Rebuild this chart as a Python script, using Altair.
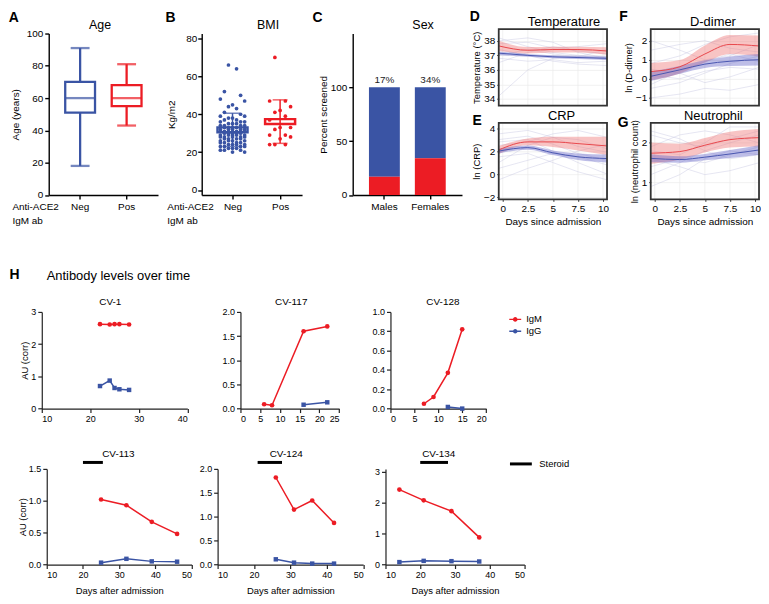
import altair as alt
import pandas as pd

FONT = "Liberation Sans"
BLUE = "#3a54a4"
RED = "#ec1c24"

# ---------------- A: age (box plot summary) ----------------
age_groups = ["Neg", "Pos"]
age_min = [18, 43]
age_q1 = [51, 55]
age_med = [60, 60]
age_q3 = [70, 68]
age_max = [91, 81]

# ---------------- B: BMI ----------------
bmi_neg = [66, 64, 52, 50, 48, 47, 45, 44, 43, 41, 40, 39, 39, 38, 38, 37, 37,
           36, 36, 36, 35, 35, 35, 34, 34, 34, 34, 33, 33, 33, 33, 32, 32, 32, 32, 32,
           31, 31, 31, 31, 31, 30, 30, 30, 30, 30, 29, 29, 29, 29, 29, 28, 28, 28, 28, 28,
           27, 27, 27, 27, 26, 26, 26, 26, 25, 25, 25, 25, 24, 24, 24, 24, 23, 23, 23, 23,
           22, 22, 22, 21, 21, 21, 20, 20]
bmi_pos = [70, 47, 47, 44, 42, 41, 39, 37, 33, 33, 32, 29, 29, 28, 27, 24, 24, 24]

# ---------------- C: sex ----------------
sex_cats = ["Males", "Females"]
sex_pos_pct = [17, 34]

# ---------------- D-G: trajectories ----------------
band_days = [-0.4, 2.5, 5, 7.5, 10.4]

temp_pos_mean = [37.65, 37.35, 37.4, 37.4, 37.3]
temp_pos_half = [0.35, 0.22, 0.2, 0.2, 0.25]
temp_neg_mean = [37.15, 37.0, 36.9, 36.85, 36.8]
temp_neg_half = [0.12, 0.1, 0.1, 0.1, 0.12]
temp_lines = [[38.2, 37.6, 37.2, 37.0, 36.9], [37.8, 37.9, 37.5, 37.6, 37.8],
              [36.8, 36.6, 36.7, 36.5, 36.6], [37.4, 37.0, 36.6, 36.4, 36.3],
              [36.5, 37.2, 37.6, 37.3, 37.1], [38.0, 38.2, 37.9, 37.2, 36.8],
              [34.2, 36.0, 36.8, 37.0, 36.7], [37.0, 37.4, 37.1, 36.9, 37.4]]

crp_pos_mean = [2.1, 2.8, 2.8, 2.65, 2.45]
crp_pos_half = [0.35, 0.3, 0.45, 0.6, 0.8]
crp_neg_mean = [2.0, 2.3, 1.85, 1.5, 1.35]
crp_neg_half = [0.2, 0.18, 0.2, 0.28, 0.35]
crp_lines = [[1.0, 2.5, 3.2, 3.0, 2.2], [3.0, 3.3, 2.6, 1.8, 1.2],
             [0.5, 1.2, 1.8, 1.5, 0.8], [2.5, 2.8, 3.5, 3.8, 3.2],
             [1.5, 1.8, 1.0, 0.2, -0.5], [2.8, 3.0, 2.0, 1.0, 0.0],
             [-0.5, 0.5, 1.2, 2.0, 2.6], [3.5, 3.8, 3.2, 2.4, 1.9]]

dd_pos_mean = [0.38, 0.63, 1.3, 1.8, 1.72]
dd_pos_half = [0.45, 0.35, 0.45, 0.5, 0.55]
dd_neg_mean = [0.13, 0.47, 0.77, 0.92, 1.0]
dd_neg_half = [0.25, 0.2, 0.2, 0.25, 0.3]
dd_lines = [[-0.5, -0.2, 0.3, 0.8, 1.2], [0.8, 1.2, 1.8, 2.2, 2.4],
            [-1.0, -0.8, -0.5, -0.6, -0.3], [0.2, 0.0, 0.4, 0.6, 0.5],
            [1.5, 1.8, 2.0, 1.6, 1.4], [-0.3, 0.4, 0.9, 1.3, 0.9],
            [0.5, 0.3, -0.2, 0.1, 0.6], [2.0, 1.5, 1.0, 1.2, 1.8]]

neu_pos_mean = [1.74, 1.78, 1.94, 2.08, 2.13]
neu_pos_half = [0.27, 0.2, 0.18, 0.2, 0.22]
neu_neg_mean = [1.61, 1.58, 1.64, 1.72, 1.82]
neu_neg_half = [0.1, 0.08, 0.08, 0.1, 0.12]
neu_lines = [[1.2, 1.5, 1.8, 2.0, 2.2], [2.2, 2.0, 1.9, 2.1, 2.3],
             [1.6, 1.4, 1.2, 1.3, 1.5], [1.9, 2.2, 2.3, 2.2, 2.0],
             [1.4, 1.6, 1.5, 1.7, 1.9], [2.3, 2.1, 1.8, 1.6, 1.7],
             [0.9, 1.2, 1.6, 1.8, 1.7], [1.8, 1.7, 2.0, 2.4, 2.4]]

# ---------------- H: antibody levels ----------------
cv1_igm_day = [22, 24, 25, 26, 28]
cv1_igm = [2.62, 2.61, 2.62, 2.62, 2.61]
cv1_igg_day = [22, 24, 25, 26, 28]
cv1_igg = [0.70, 0.87, 0.64, 0.60, 0.58]

cv117_igm_day = [6, 8, 16, 22]
cv117_igm = [0.09, 0.07, 1.60, 1.70]
cv117_igg_day = [16, 22]
cv117_igg = [0.08, 0.13]

cv128_igm_day = [7, 9, 12, 15]
cv128_igm = [0.05, 0.12, 0.37, 0.82]
cv128_igg_day = [12, 15]
cv128_igg = [0.017, 0.0]

cv113_day = [25, 32, 39, 46]
cv113_igm = [1.02, 0.93, 0.67, 0.48]
cv113_igg = [0.03, 0.09, 0.05, 0.045]
cv113_steroid = [20, 25.5]

cv124_day = [26, 31, 36, 42]
cv124_igm = [1.82, 1.15, 1.34, 0.87]
cv124_igg = [0.11, 0.04, 0.02, 0.02]
cv124_steroid = [21, 27.7]

cv134_day = [14, 21, 29, 37]
cv134_igm = [2.43, 2.08, 1.73, 0.88]
cv134_igg = [0.08, 0.12, 0.11, 0.10]
cv134_steroid = [20, 28]

# ================= helpers =================
RES = dict(color="independent", stroke="independent", shape="independent")


def txt(s, x, y, size=10, weight="normal", align="center", baseline="middle"):
    return (alt.Chart(pd.DataFrame({"t": [s]}))
            .mark_text(font=FONT, fontSize=size, fontWeight=weight, align=align,
                       baseline=baseline, color="black")
            .encode(text="t:N", x=alt.value(x), y=alt.value(y)))


def spacer(w, h=1):
    return (alt.Chart(pd.DataFrame({"t": [0]})).mark_point(size=0, opacity=0)
            .encode(x=alt.value(0), y=alt.value(0)).properties(width=w, height=h))


AX_ABC = dict(domainColor="black", domainWidth=1.4, tickColor="black", tickWidth=1.4,
              tickSize=4, labelFontSize=10, labelColor="black", titleFontSize=10,
              titleColor="black", titleFontWeight="normal", grid=False,
              labelFont=FONT, titleFont=FONT)

AX_H = dict(domainColor="#222222", domainWidth=1.2, tickColor="#222222", tickWidth=1.2,
            tickSize=4, labelFontSize=9, labelPadding=2, labelColor="black",
            titleFontSize=9.5, titleColor="black", titleFontWeight="normal", grid=False,
            labelFont=FONT, titleFont=FONT)

TOP_H = 162.5

# ================= A =================
a_df = pd.DataFrame({"g": age_groups, "lo": age_min, "q1": age_q1, "med": age_med,
                     "q3": age_q3, "hi": age_max})
grp_scale = alt.Scale(domain=age_groups, range=[BLUE, RED])
xA = alt.X("g:N", sort=age_groups,
           scale=alt.Scale(domain=age_groups, paddingInner=0.4, paddingOuter=0.375),
           axis=alt.Axis(labelAngle=0, labelPadding=3, title=["Anti-ACE2", "IgM ab"],
                         titleX=-37.0, titleY=7, titleAlign="left", titleBaseline="top",
                         titleLineHeight=14, **AX_ABC))
axA = alt.Axis(values=[0, 20, 40, 60, 80, 100], title="Age (years)", titlePadding=5.5,
               labelPadding=2, **AX_ABC)


def yA(f):
    return alt.Y(f"{f}:Q", scale=alt.Scale(domain=[0, 100]), axis=axA)


cA = alt.Color("g:N", scale=grp_scale, legend=None)
ba = alt.Chart(a_df)
A = alt.layer(
    ba.mark_rule(strokeWidth=2.3).encode(x=xA, y=yA("lo"), y2="hi:Q", color=cA),
    ba.mark_bar(size=30, fill="white", strokeWidth=2.3).encode(
        x=xA, y=yA("q1"), y2="q3:Q", stroke=alt.Stroke("g:N", scale=grp_scale, legend=None)),
    ba.mark_tick(size=30, thickness=2.3).encode(x=xA, y=yA("med"), color=cA),
    ba.mark_tick(size=19, thickness=2.3).encode(x=xA, y=yA("lo"), color=cA),
    ba.mark_tick(size=19, thickness=2.3).encode(x=xA, y=yA("hi"), color=cA),
    txt("A", -40.3, -15.6, 14, "bold", "left"),
    txt("Age", 51.6, -8.8, 12.5),
).properties(width=110, height=TOP_H)

# ================= B =================
b_df = pd.DataFrame({"g": ["Neg"] * len(bmi_neg) + ["Pos"] * len(bmi_pos),
                     "v": bmi_neg + bmi_pos})
axBx = alt.Axis(values=[0, 1], labelExpr="datum.value == 0 ? 'Neg' : 'Pos'", labelPadding=3,
                title=["Anti-ACE2", "IgM ab"], titleX=-35.1, titleY=7, titleAlign="left",
                titleBaseline="top", titleLineHeight=14, **AX_ABC)
axBy = alt.Axis(values=[0, 20, 40, 60, 80], title="Kg/m2", titlePadding=9, labelPadding=1,
                **AX_ABC)


def xB(f):
    return alt.X(f"{f}:Q", scale=alt.Scale(domain=[-0.647, 1.461], nice=False, zero=False),
                 axis=axBx)


def yB(f):
    return alt.Y(f"{f}:Q", scale=alt.Scale(domain=[0, 80]), axis=axBy)


cB = alt.Color("g:N", scale=grp_scale, legend=None)
bsum = (alt.Chart(b_df)
        .transform_aggregate(m="mean(v)", s="stdev(v)", groupby=["g"])
        .transform_calculate(gi="datum.g == 'Neg' ? 0 : 1")
        .transform_calculate(xa="datum.gi - 0.315", xb="datum.gi + 0.315",
                             lo="datum.m - datum.s", hi="datum.m + datum.s"))
bpts = (alt.Chart(b_df)
        .transform_window(rn="row_number()", groupby=["g"],
                          sort=[alt.SortField("v", order="descending")])
        .transform_calculate(k="datum.g == 'Neg' ? datum.rn % 7 : datum.rn % 5")
        .transform_calculate(o="datum.k % 2 == 0 ? datum.k / 2 : -(datum.k + 1) / 2")
        .transform_calculate(
            xj="(datum.g == 'Neg' ? 0 : 1) + datum.o * (datum.g == 'Neg' ? 0.085 : 0.11)"))
B = alt.layer(
    bsum.mark_bar(fill="white", strokeWidth=2.5).encode(
        x=xB("xa"), x2="xb:Q", y=yB("m"),
        stroke=alt.Stroke("g:N", scale=grp_scale, legend=None)),
    bpts.mark_circle(size=14, opacity=1).encode(x=xB("xj"), y=yB("v"), color=cB),
    bsum.mark_rule(strokeWidth=1.5).encode(x=xB("gi"), y=yB("lo"), y2="hi:Q", color=cB),
    bsum.mark_tick(orient="horizontal", size=15, thickness=1.5).encode(
        x=xB("gi"), y=yB("hi"), color=cB),
    bsum.mark_tick(orient="horizontal", size=15, thickness=1.5).encode(
        x=xB("gi"), y=yB("lo"), color=cB),
    txt("B", -36.4, -15.6, 14, "bold", "left"),
    txt("BMI", 66.8, -8.8, 12.5),
).properties(width=101, height=TOP_H)

# ================= C =================
c_df = pd.DataFrame({"cat": sex_cats, "pct": sex_pos_pct})
bc = alt.Chart(c_df).transform_calculate(full="100", lab="datum.pct + '%'")
xC = alt.X("cat:N", sort=sex_cats,
           scale=alt.Scale(domain=sex_cats, paddingInner=0.327, paddingOuter=0.354),
           axis=alt.Axis(labelAngle=0, labelPadding=3, title=None, **AX_ABC))
axCy = alt.Axis(values=[0, 50, 100], title="Percent screened", titlePadding=2,
                labelPadding=2, **AX_ABC)


def yC(f):
    return alt.Y(f"{f}:Q", scale=alt.Scale(domain=[0, 150]), axis=axCy)


C = alt.layer(
    bc.mark_bar(color=BLUE).encode(x=xC, y=yC("pct"), y2="full:Q"),
    bc.mark_bar(color=RED).encode(x=xC, y=yC("pct")),
    bc.mark_text(dy=-7, fontSize=10, font=FONT, color="#222222").encode(
        x=xC, y=yC("full"), text="lab:N"),
    txt("C", -40.6, -15.6, 14, "bold", "left"),
    txt("Sex", 70.8, -8.8, 12.5),
).properties(width=110, height=TOP_H)

# ================= D-G =================
XD = [-0.4, 10.4]
PH = 76.9
PGAP = 17.5


def ribbon_block(panels, texts, w):
    ax_x = alt.Axis(values=[0, 2.5, 5, 7.5, 10], labelExpr="'' + datum.value",
                    title="Days since admission",
                    grid=False, domain=False, tickSize=2, tickColor="#333333", labelPadding=2,
                    titlePadding=3, labelFontSize=10, titleFontSize=10, labelColor="black",
                    titleColor="black", titleFontWeight="normal", labelFont=FONT,
                    titleFont=FONT)

    def X(f):
        return alt.X(f"{f}:Q", scale=alt.Scale(domain=XD, nice=False, zero=False), axis=ax_x)

    groups = []
    for i, p in enumerate(panels):
        top = 0 if i == 0 else PH + PGAP
        rng = [top + PH, top]
        ax_y = alt.Axis(orient="left", values=p["ticks"], title=p["ytitle"], grid=True,
                        gridColor="#ebebeb", gridWidth=0.7, domain=False, tickSize=2,
                        tickColor="#333333", labelPadding=2, titlePadding=2,
                        labelFontSize=10, titleFontSize=9.5, labelColor="black",
                        titleColor="black", titleFontWeight="normal", labelFont=FONT,
                        titleFont=FONT)
        yscale = alt.Scale(domain=p["dom"], range=rng, nice=False, zero=False)

        def Y(f, yscale=yscale, ax_y=ax_y):
            return alt.Y(f"{f}:Q", scale=yscale, axis=ax_y)

        grid_df = pd.DataFrame({"gx": [0, 2.5, 5, 7.5, 10]})
        grid_df["y0"] = p["dom"][0]
        grid_df["y1"] = p["dom"][1]
        rows = []
        for j, arr in enumerate(p["lines"]):
            for d, v in zip(band_days, arr):
                rows.append({"id": j, "day": d, "v": v})
        lines_df = pd.DataFrame(rows)
        pos_df = pd.DataFrame({"day": band_days, "m": p["pm"], "hw": p["ph"]})
        neg_df = pd.DataFrame({"day": band_days, "m": p["nm"], "hw": p["nh"]})
        frame_df = pd.DataFrame({"x0": [XD[0]], "x1": [XD[1]],
                                 "y0": [p["dom"][0]], "y1": [p["dom"][1]]})
        band_calc = dict(lo="datum.m - datum.hw", hi="datum.m + datum.hw")
        g = alt.layer(
            alt.Chart(grid_df).mark_rule(color="#ebebeb", strokeWidth=0.7).encode(
                x=X("gx"), y=Y("y0"), y2="y1:Q"),
            alt.Chart(lines_df).mark_line(color="#c3c3e0", strokeWidth=0.6, opacity=0.7).encode(
                x=X("day"), y=Y("v"), detail="id:N"),
            alt.Chart(pos_df).transform_calculate(**band_calc).mark_area(
                color="#f07c7c", opacity=0.45, interpolate="monotone").encode(
                x=X("day"), y=Y("lo"), y2="hi:Q"),
            alt.Chart(neg_df).transform_calculate(**band_calc).mark_area(
                color="#6d6dc9", opacity=0.45, interpolate="monotone").encode(
                x=X("day"), y=Y("lo"), y2="hi:Q"),
            alt.Chart(pos_df).mark_line(color="#e8474c", strokeWidth=1,
                                        interpolate="monotone").encode(x=X("day"), y=Y("m")),
            alt.Chart(neg_df).mark_line(color="#4a57b0", strokeWidth=1,
                                        interpolate="monotone").encode(x=X("day"), y=Y("m")),
            alt.Chart(frame_df).mark_rect(filled=False, color="#333333", strokeWidth=1.8).encode(
                x=X("x0"), x2="x1:Q", y=Y("y0"), y2="y1:Q"),
        )
        groups.append(g)
    return (alt.layer(*groups, *texts).resolve_scale(y="independent")
            .properties(width=w, height=2 * PH + PGAP))


pD = dict(dom=[33.55, 38.8], ticks=[34, 35, 36, 37, 38], ytitle="Temperature (°C)",
          lines=temp_lines, pm=temp_pos_mean, ph=temp_pos_half, nm=temp_neg_mean, nh=temp_neg_half)
pE = dict(dom=[-2.2, 4.45], ticks=[-2, 0, 2, 4], ytitle="ln (CRP)",
          lines=crp_lines, pm=crp_pos_mean, ph=crp_pos_half, nm=crp_neg_mean, nh=crp_neg_half)
pF = dict(dom=[-1.4, 2.6], ticks=[-1, 0, 1, 2], ytitle="ln (D-dimer)",
          lines=dd_lines, pm=dd_pos_mean, ph=dd_pos_half, nm=dd_neg_mean, nh=dd_neg_half)
pG = dict(dom=[0.58, 2.5], ticks=[1, 2], ytitle="ln (neutrophil count)",
          lines=neu_lines, pm=neu_pos_mean, ph=neu_pos_half, nm=neu_neg_mean, nh=neu_neg_half)

BT = PH + PGAP
DE = ribbon_block([pD, pE], [txt("D", -29.2, -12.3, 14, "bold", "left"),
                             txt("Temperature", 65.7, -7.5, 13),
                             txt("E", -26.5, BT - 1.7, 14, "bold", "left"),
                             txt("CRP", 63.2, BT - 7.3, 13)], 109)
FG = ribbon_block([pF, pG], [txt("F", -31.6, -12.3, 14, "bold", "left"),
                             txt("D-dimer", 62.6, -7.5, 13),
                             txt("G", -33.2, BT + 0.3, 14, "bold", "left"),
                             txt("Neutrophil", 63.0, BT - 7.3, 13)], 109)

# ================= H =================
AB_SCALE = alt.Scale(domain=["IgM", "IgG"], range=[RED, BLUE])
LINE_DOT = ("M-1,-0.12L1,-0.12L1,0.12L-1,0.12Z "
            "M-0.38,0A0.38,0.38,0,1,1,0.38,0A0.38,0.38,0,1,1,-0.38,0Z")


def ab_panel(igm_d, igm_v, igg_d, igg_v, xdom, xvals, ydom, yvals, yfmt, w, h, texts,
             ytitle=None, xtitle=None, steroid=None, ab_legend=None, steroid_legend=None):
    df = pd.DataFrame({"ab": ["IgM"] * len(igm_d) + ["IgG"] * len(igg_d),
                       "day": list(igm_d) + list(igg_d), "v": list(igm_v) + list(igg_v)})
    ax_x = alt.Axis(values=xvals, title=xtitle, titlePadding=6, **AX_H)
    ax_y = alt.Axis(values=yvals, format=yfmt, title=ytitle, titlePadding=1, **AX_H)

    def X(f):
        return alt.X(f"{f}:Q", scale=alt.Scale(domain=xdom, nice=False, zero=False), axis=ax_x)

    Y = alt.Y("v:Q", scale=alt.Scale(domain=ydom, nice=False, zero=False), axis=ax_y)
    col = alt.Color("ab:N", scale=AB_SCALE, legend=ab_legend)
    igm = alt.Chart(df).transform_filter("datum.ab == 'IgM'")
    igg = alt.Chart(df).transform_filter("datum.ab == 'IgG'")
    layers = [
        igm.mark_line(strokeWidth=1.5, color=RED).encode(x=X("day"), y=Y),
        igg.mark_line(strokeWidth=1.5, color=BLUE).encode(x=X("day"), y=Y),
        igm.mark_point(filled=True, size=22, opacity=1).encode(x=X("day"), y=Y, color=col),
        igg.mark_point(filled=True, size=20, opacity=1, shape="square").encode(
            x=X("day"), y=Y, color=col),
    ]
    if steroid is not None:
        sdf = pd.DataFrame({"s": [steroid[0]], "e": [steroid[1]], "lab": ["Steroid"]})
        enc = dict(x=X("s"), x2="e:Q", y=alt.value(-6.5))
        if steroid_legend is not None:
            enc["stroke"] = alt.Stroke("lab:N", scale=alt.Scale(domain=["Steroid"], range=["black"]),
                                       legend=steroid_legend)
        layers.append(alt.Chart(sdf).mark_rule(strokeWidth=3, color="black").encode(**enc))
    return alt.layer(*layers, *texts).properties(width=w, height=h)


ab_leg = alt.Legend(orient="none", legendX=119.6, legendY=1.5, title=None, symbolType=LINE_DOT,
                    symbolSize=144, symbolStrokeWidth=0, symbolOpacity=1, labelFont=FONT,
                    labelFontSize=9.5, labelColor="black", labelOffset=5, rowPadding=1, padding=0)
st_leg = alt.Legend(orient="none", legendX=123.8, legendY=-17.5, title=None, symbolType="stroke",
                    symbolSize=484, symbolStrokeWidth=3, labelFont=FONT, labelFontSize=9.5,
                    labelColor="black", labelOffset=6, padding=0)

R2H = 97.3
R3H = 96.3

CV1 = ab_panel(cv1_igm_day, cv1_igm, cv1_igg_day, cv1_igg, [10, 40], [10, 20, 30, 40],
               [0, 3], [0, 1, 2, 3], "d", 146.5, R2H,
               [txt("CV-1", 69, -10.4),
                txt("H", -32.4, -37.0, 14, "bold", "left"),
                txt("Antibody levels over time", 4.9, -36.0, 13, "normal", "left")],
               ytitle="AU (corr)")
CV117 = ab_panel(cv117_igm_day, cv117_igm, cv117_igg_day, cv117_igg, [0, 25],
                 [0, 5, 10, 15, 20, 25], [0, 2], [0, 0.5, 1, 1.5, 2], ".1f", 99.3, R2H,
                 [txt("CV-117", 51.1, -10.4)])
CV128 = ab_panel(cv128_igm_day, cv128_igm, cv128_igg_day, cv128_igg, [0, 20],
                 [0, 5, 10, 15, 20], [0, 1], [0, 0.2, 0.4, 0.6, 0.8, 1.0], ".1f", 96.3, R2H,
                 [txt("CV-128", 52.8, -10.4)], ab_legend=ab_leg)

CV113 = ab_panel(cv113_day, cv113_igm, cv113_day, cv113_igg, [10, 50], [10, 20, 30, 40, 50],
                 [0, 1.5], [0, 0.5, 1, 1.5], ".1f", 145.8, R3H,
                 [txt("CV-113", 72.1, -14.6)], ytitle="AU (corr)",
                 xtitle="Days after admission", steroid=cv113_steroid)
CV124 = ab_panel(cv124_day, cv124_igm, cv124_day, cv124_igg, [10, 50], [10, 20, 30, 40, 50],
                 [0, 2], [0, 0.5, 1, 1.5, 2], ".1f", 146.5, R3H,
                 [txt("CV-124", 69.1, -14.6)], xtitle="Days after admission",
                 steroid=cv124_steroid)
CV134 = ab_panel(cv134_day, cv134_igm, cv134_day, cv134_igg, [10, 50], [10, 20, 30, 40, 50],
                 [0, 3.1], [0, 1, 2, 3], "d", 139.8, R3H,
                 [txt("CV-134", 53.6, -14.6)], xtitle="Days after admission",
                 steroid=cv134_steroid, steroid_legend=st_leg)

# ================= layout =================
row1 = alt.hconcat(spacer(40.3), A, spacer(43.4), B, spacer(50.3), C, spacer(36.5), DE,
                   spacer(43.4), FG, spacing=0, bounds="flush", center=True).resolve_scale(**RES)
row2 = alt.hconcat(spacer(33.4), CV1, spacer(52.1), CV117, spacer(50.1), CV128,
                   spacing=0, bounds="flush").resolve_scale(**RES)
row3 = alt.hconcat(spacer(39.0), CV113, spacer(25.6), CV124, spacer(21.3), CV134,
                   spacing=0, bounds="flush").resolve_scale(**RES)

chart = (alt.vconcat(row1, spacer(1, 41.4), row2, spacer(1, 24.8), row3, spacing=0)
         .resolve_scale(**RES)
         .properties(padding={"left": 0, "top": 0, "right": 0, "bottom": 0})
         .configure(font=FONT)
         .configure_view(stroke=None))

chart.save("out.html", embed_options={"renderer": "svg", "actions": False})
